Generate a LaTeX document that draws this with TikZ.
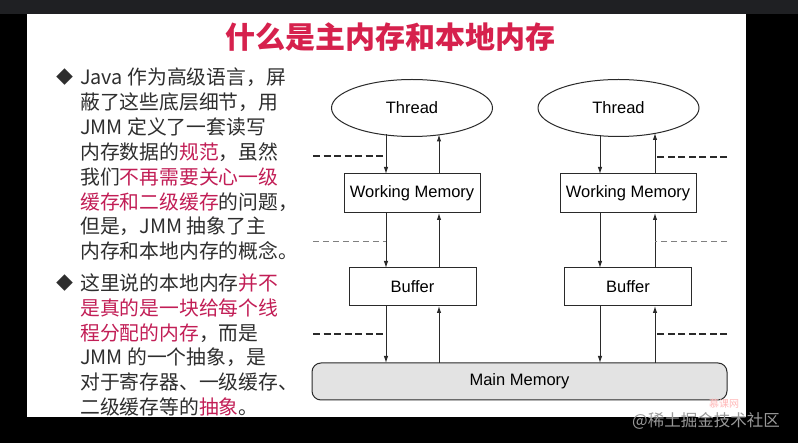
\documentclass[tikz,border=0pt]{standalone}
\usepackage{xcolor}
\usepackage{fontspec}
\setmainfont{Liberation Sans}
\newfontfamily\cjk{Noto Sans CJK SC}
\usepackage{tikz}
\usetikzlibrary{shapes, arrows.meta, positioning, calc}
\definecolor{titlered}{HTML}{D6214D}
\definecolor{hlred}{HTML}{C21E56}
\definecolor{bodytext}{HTML}{2E2E2E}
\definecolor{memgray}{HTML}{E3E3E3}
\definecolor{topbar}{HTML}{1F2023}
\definecolor{linegray}{HTML}{2A2A2A}
\newcommand{\hl}[1]{\textcolor{hlred}{#1}}

\tikzset{
    thread/.style={ellipse, draw=linegray, line width=1pt, fill=white, minimum width=161pt, minimum height=57pt, inner sep=0pt, outer sep=0pt, font=\fontsize{16.5}{18}\selectfont},
    membox/.style={rectangle, draw=linegray, line width=1pt, fill=white, minimum width=136pt, minimum height=39pt, inner sep=0pt, outer sep=0pt, font=\fontsize{16.5}{18}\selectfont},
    bufbox/.style={membox, minimum width=127pt, minimum height=38pt},
    mainmem/.style={rectangle, rounded corners=9pt, draw=linegray, line width=1pt, fill=memgray, minimum width=415pt, minimum height=37pt, inner sep=0pt, outer sep=0pt, font=\fontsize{16.5}{18}\selectfont},
    arr/.style={draw=linegray, line width=1pt, -{Latex[length=7pt,width=4.5pt]}},
    bigdash/.style={draw=linegray, line width=1.7pt, dash pattern=on 7pt off 3.5pt},
    smalldash/.style={draw=gray, line width=0.9pt, dash pattern=on 6pt off 4pt},
    bodyline/.style={anchor=west, inner sep=0pt, text height=17.5pt, text depth=2.5pt, text=bodytext, font=\cjk\fontsize{19.8}{24}\selectfont},
    bullet/.style={inner sep=0pt, text=bodytext, font=\cjk\fontsize{17}{18}\selectfont}
}

\begin{document}
\begin{tikzpicture}[x=1pt, y=-1pt]
    \useasboundingbox (0,0) rectangle (798,443);
    \fill[white] (27,14) rectangle (746,417);

    % Title
    \node[text=titlered, font=\cjk\bfseries\fontsize{30}{32}\selectfont] (ttl) at (390.5,37) {什么是主内存和本地内存};

    % Left text, first bullet
    \node[bullet] (b1) at (64.5,77) {◆};
    \node[bodyline] (l1) at (80,77) {Java 作为高级语言，屏};
    \node[bodyline] (l2) at (80,102) {蔽了这些底层细节，用};
    \node[bodyline] (l3) at (80,127) {JMM 定义了一套读写};
    \node[bodyline] (l4) at (80,152) {内存数据的\hl{规范}，虽然};
    \node[bodyline] (l5) at (80,177) {我们\hl{不再需要关心一级}};
    \node[bodyline] (l6) at (80,202) {\hl{缓存和二级缓存}的问题，};
    \node[bodyline] (l7) at (80,226) {但是，JMM 抽象了主};
    \node[bodyline] (l8) at (80,251) {内存和本地内存的概念。};

    % Left text, second bullet
    \node[bullet] (b2) at (64.5,283) {◆};
    \node[bodyline] (l9) at (80,283) {这里说的本地内存\hl{并不}};
    \node[bodyline] (l10) at (80,308) {\hl{是真的是一块给每个线}};
    \node[bodyline] (l11) at (80,333) {\hl{程分配的内存}，而是};
    \node[bodyline] (l12) at (80,357) {JMM 的一个抽象，是};
    \node[bodyline] (l13) at (80,382) {对于寄存器、一级缓存、};
    \node[bodyline] (l14) at (80,407) {二级缓存等的\hl{抽象}。};

    % Diagram
    \node[thread] (thA) at (412,108) {Thread};
    \node[thread] (thB) at (618.5,108) {Thread};
    \node[membox] (wmA) at (412,193.5) {Working Memory};
    \node[membox] (wmB) at (628,193.5) {Working Memory};
    \node[bufbox] (bfA) at (412.5,287) {Buffer};
    \node[bufbox] (bfB) at (628,287) {Buffer};
    \node[mainmem] (mem) at (519.5,381.5) {Main Memory};

    \coordinate (dnA) at (386,0);
    \coordinate (upA) at (439,0);
    \coordinate (dnB) at (600,0);
    \coordinate (upB) at (655,0);

    % left thread
    \draw[arr] ($(thA.south -| dnA)+(0,-2)$) -- (wmA.north -| dnA);
    \draw[arr] (wmA.north -| upA) -- ($(thA.south -| upA)+(0,-2)$);
    \draw[arr] (wmA.south -| dnA) -- (bfA.north -| dnA);
    \draw[arr] (bfA.north -| upA) -- (wmA.south -| upA);
    \draw[arr] (bfA.south -| dnA) -- (mem.north -| dnA);
    \draw[arr] (mem.north -| upA) -- (bfA.south -| upA);

    % right thread
    \draw[arr] ($(thB.south -| dnB)+(0,-1)$) -- (wmB.north -| dnB);
    \draw[arr] (wmB.north -| upB) -- ($(thB.south -| upB)+(0,-3.5)$);
    \draw[arr] (wmB.south -| dnB) -- (bfB.north -| dnB);
    \draw[arr] (bfB.north -| upB) -- (wmB.south -| upB);
    \draw[arr] (bfB.south -| dnB) -- (mem.north -| dnB);
    \draw[arr] (mem.north -| upB) -- (bfB.south -| upB);

    % dashed levels
    \coordinate (la) at (313,156);
    \coordinate (lb) at (313,241);
    \coordinate (lc) at (313,334);
    \coordinate (ra) at (727,157);
    \coordinate (rb) at (727,241);
    \coordinate (rc) at (727,334);
    \draw[bigdash] (la) -- (la -| dnA);
    \draw[smalldash] (lb) -- (lb -| dnA);
    \draw[bigdash] (lc) -- (lc -| dnA);
    \draw[bigdash] (ra) -- (ra -| upB);
    \draw[smalldash] (rb) -- (rb -| upB);
    \draw[bigdash] (rc) -- (rc -| upB);

    % screen frame
    \fill[topbar] (0,0) rectangle (798,14);
    \fill[black] (0,14) rectangle (27,443);
    \fill[black] (746,14) rectangle (798,443);
    \fill[black] (0,417) rectangle (798,443);

    % watermark
    \node[text=pink!80!red!70, font=\cjk\fontsize{10}{11}\selectfont] (logo) at (724,404) {慕课网};
    \node[text=gray!80, font=\cjk\fontsize{16.5}{18}\selectfont] (mark) at (706,421) {@稀土掘金技术社区};
\end{tikzpicture}
\end{document}
